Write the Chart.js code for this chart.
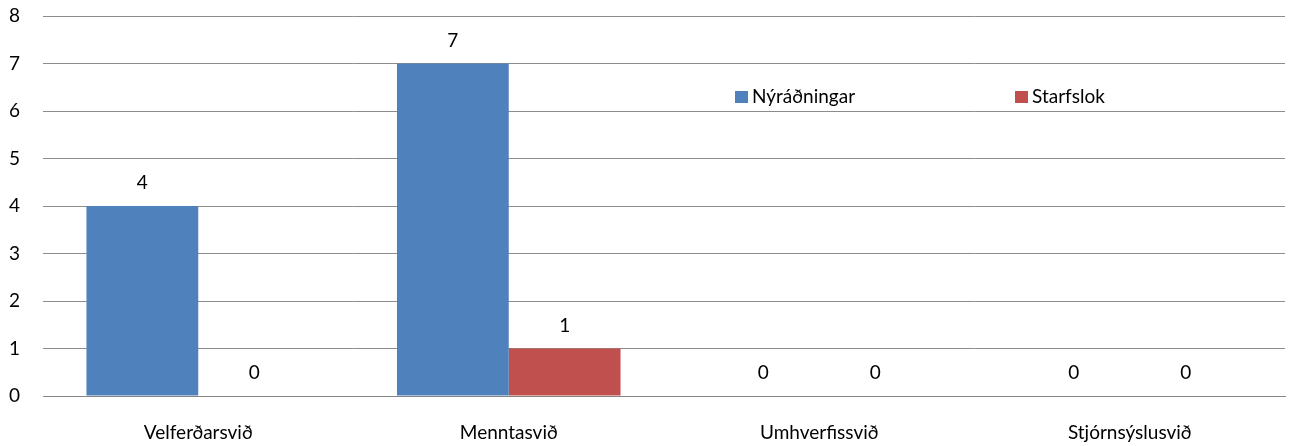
<!DOCTYPE html>
<html>
<head>
<meta charset="utf-8">
<script src="https://cdn.jsdelivr.net/npm/chart.js@4.4.1/dist/chart.umd.min.js"></script>
<style>
  html, body { margin: 0; padding: 0; background: #fff; }
  #wrap { width: 1289px; height: 446px; position: relative; }
</style>
</head>
<body>
<div id="wrap"><canvas id="chart"></canvas></div>
<script>
const categories = ["Velferðarsvið", "Menntasvið", "Umhverfissvið", "Stjórnsýslusvið"];
const seriesNames = ["Nýráðningar", "Starfslok"];
const hires = [4, 7, 0, 0];
const leavers = [0, 1, 0, 0];
const colors = ["#4F81BD", "#C0504D"];
const fontFamily = "Lato, sans-serif";
const fontSize = 19;

// value labels above each bar
const valueLabels = {
    id: "valueLabels",
    afterDatasetsDraw(chart) {
        const ctx = chart.ctx;
        ctx.save();
        ctx.font = fontSize + "px " + fontFamily;
        ctx.fillStyle = "#000";
        ctx.textAlign = "center";
        ctx.textBaseline = "middle";
        chart.data.datasets.forEach((ds, i) => {
            chart.getDatasetMeta(i).data.forEach((bar, j) => {
                ctx.fillText(String(ds.data[j]), bar.x, bar.y - 23);
            });
        });
        ctx.restore();
    }
};

// legend drawn inside the plot area
const innerLegend = {
    id: "innerLegend",
    afterDraw(chart) {
        const ctx = chart.ctx;
        const y = 97;
        const xs = [735, 1015];
        ctx.save();
        ctx.font = fontSize + "px " + fontFamily;
        ctx.textBaseline = "middle";
        ctx.textAlign = "left";
        seriesNames.forEach((name, i) => {
            ctx.fillStyle = colors[i];
            ctx.fillRect(xs[i], y - 6, 13, 12);
            ctx.fillStyle = "#000";
            ctx.fillText(name, xs[i] + 17, y);
        });
        ctx.restore();
    }
};

new Chart(document.getElementById("chart"), {
    type: "bar",
    data: {
        labels: categories,
        datasets: [
            { label: seriesNames[0], data: hires, backgroundColor: colors[0] },
            { label: seriesNames[1], data: leavers, backgroundColor: colors[1] }
        ]
    },
    options: {
        responsive: true,
        maintainAspectRatio: false,
        animation: false,
        layout: { padding: { top: 0, right: 4, bottom: 0, left: 0 } },
        plugins: {
            legend: { display: false },
            tooltip: { enabled: false }
        },
        datasets: {
            bar: { categoryPercentage: 0.72, barPercentage: 1.0 }
        },
        scales: {
            x: {
                grid: { display: false, drawTicks: false },
                border: { display: true, color: "#868686", width: 1 },
                ticks: { color: "#000", font: { family: fontFamily, size: fontSize }, padding: 25 },
                afterFit: s => { s.height = 50; }
            },
            y: {
                min: 0,
                max: 8,
                grid: { color: "#8c8c8c", lineWidth: 1, drawTicks: false },
                border: { display: false },
                ticks: { stepSize: 1, color: "#000", font: { family: fontFamily, size: fontSize }, padding: 23 },
                afterFit: s => { s.width = 43; s.paddingTop = 16; s.paddingBottom = 0; }
            }
        }
    },
    plugins: [valueLabels, innerLegend]
});
</script>
</body>
</html>
